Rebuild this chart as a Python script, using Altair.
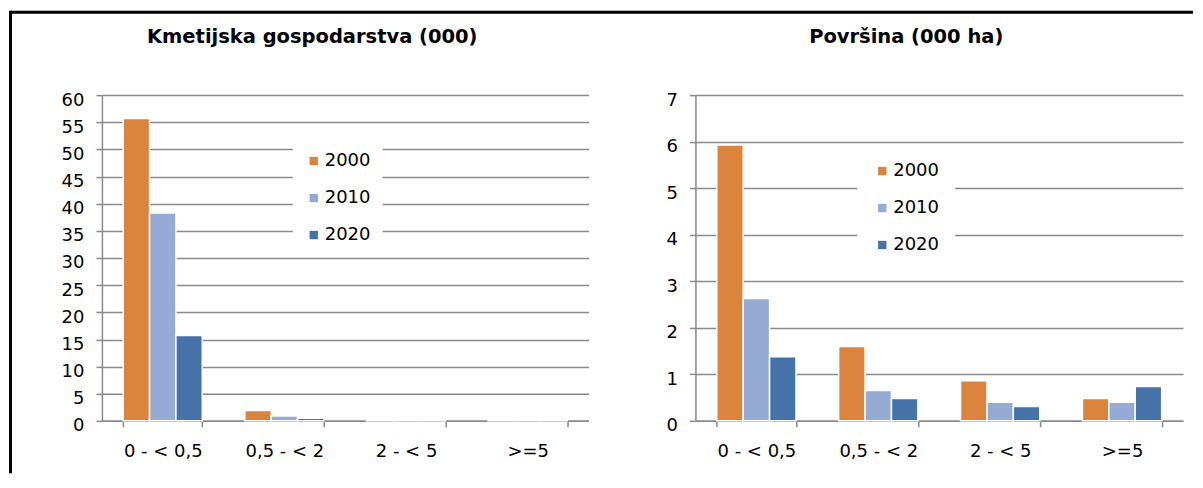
import altair as alt
import pandas as pd

categories = ["0 - < 0,5", "0,5 - < 2", "2 - < 5", ">=5"]
years = ["2000", "2010", "2020"]

farms_2000 = [55.7, 1.9, 0.1, 0.03]
farms_2010 = [38.3, 0.9, 0.05, 0.02]
farms_2020 = [15.7, 0.5, 0.04, 0.02]

area_2000 = [5.93, 1.60, 0.86, 0.48]
area_2010 = [2.63, 0.65, 0.40, 0.40]
area_2020 = [1.38, 0.48, 0.31, 0.74]

farms_ticks = [0, 5, 10, 15, 20, 25, 30, 35, 40, 45, 50, 55, 60]
area_ticks = [0, 1, 2, 3, 4, 5, 6, 7]

colors = ["#DB843D", "#95ABD3", "#4572A7"]
FONT = "DejaVu Sans"
GRID = "#8A8A8A"
H = 326


def long(series_list):
    rows = []
    for y, vals in zip(years, series_list):
        for c, v in zip(categories, vals):
            rows.append({"cat": c, "year": y, "value": v})
    return pd.DataFrame(rows)


def panel(df, title_text, ticks, width, lx, ly, lpad):
    return alt.Chart(df).mark_bar(stroke="white", strokeWidth=1.5).encode(
        x=alt.X("cat:N", sort=categories, title=None,
                scale=alt.Scale(paddingInner=0.35, paddingOuter=0.175),
                axis=alt.Axis(labelAngle=0, tickBand="extent", grid=False,
                              labelFont=FONT, labelFontSize=18, labelColor="black",
                              domainColor=GRID, domainWidth=1.5, tickColor=GRID,
                              tickWidth=1.5, tickSize=6, labelPadding=16)),
        xOffset=alt.XOffset("year:N", sort=years, scale=alt.Scale(paddingInner=0)),
        y=alt.Y("value:Q", title=None,
                scale=alt.Scale(domain=[ticks[0], ticks[-1]], nice=False),
                axis=alt.Axis(values=ticks, grid=True, gridColor=GRID, gridWidth=1.5,
                              labelFont=FONT, labelFontSize=18, labelColor="black",
                              domainColor=GRID, domainWidth=1.5, tickColor=GRID,
                              tickWidth=1.5, tickSize=6, labelPadding=12,
                              labelOffset=5)),
        color=alt.Color("year:N", sort=years,
                        scale=alt.Scale(domain=years, range=colors),
                        legend=alt.Legend(title=None, orient="none", legendX=lx, legendY=ly,
                                          fillColor="white", padding=lpad,
                                          symbolType="square", symbolSize=70,
                                          symbolStrokeWidth=0, labelFont=FONT,
                                          labelFontSize=18, labelColor="black",
                                          rowPadding=19, labelOffset=2)),
    ).properties(
        width=width, height=H,
        title=alt.TitleParams(title_text, font=FONT, fontSize=19.5, fontWeight="bold",
                              color="black", anchor="middle", dx=-33, offset=44),
    )


left = panel(long([farms_2000, farms_2010, farms_2020]),
             "Kmetijska gospodarstva (000)", farms_ticks, 487, 191, 45, 12)
right = panel(long([area_2000, area_2010, area_2020]),
              "Površina (000 ha)", area_ticks, 488, 162, 51, 16)

inner = alt.hconcat(left, right, spacing=107, bounds="flush").resolve_scale(
    x="independent", y="independent", color="independent", xOffset="independent"
).resolve_legend(color="independent")

frame_df = pd.DataFrame({"a": [0]})
frame_v = alt.Chart(frame_df).mark_rule(color="black", strokeWidth=3, strokeCap="square").encode(
    x=alt.value(-90.5), y=alt.value(-83), y2=alt.value(377))
frame_h = alt.Chart(frame_df).mark_rule(color="black", strokeWidth=3).encode(
    x=alt.value(-90.5), x2=alt.value(1093), y=alt.value(-83))
frame = alt.layer(frame_v, frame_h).properties(width=1, height=H)

chart = alt.hconcat(frame, inner, spacing=0, bounds="flush").properties(
    padding={"left": 0, "top": 1, "right": 0, "bottom": 0}
).configure_view(strokeWidth=0)

chart.save("out.html", embed_options={"renderer": "svg", "actions": False})
